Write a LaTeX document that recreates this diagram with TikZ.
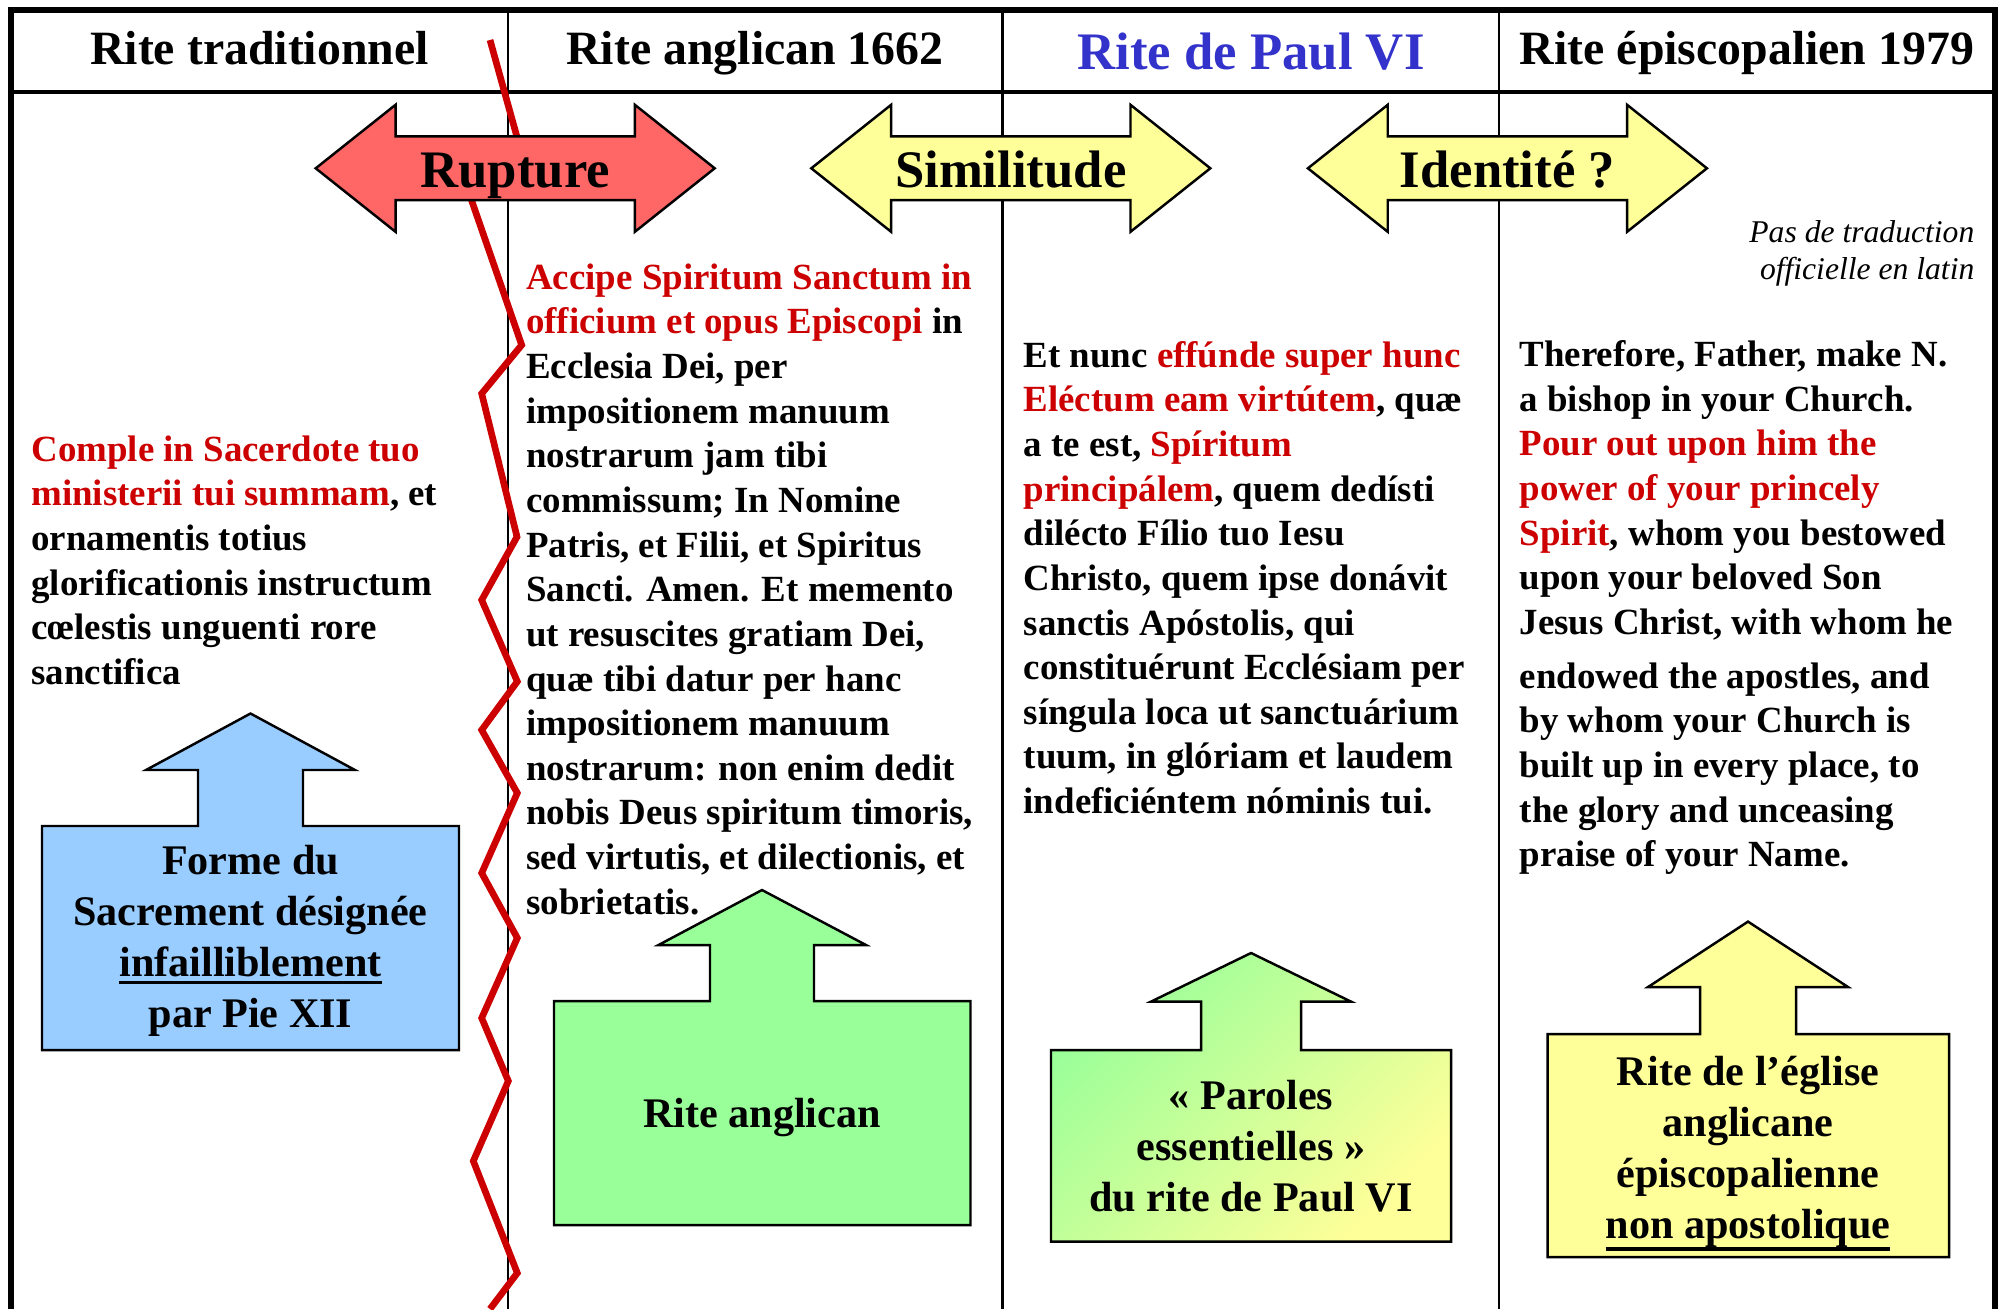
\documentclass[tikz,border=0pt]{standalone}
\usepackage{fontspec}
\setmainfont{Liberation Serif}
\usepackage{tikz}
\usetikzlibrary{shapes.arrows}

\definecolor{txtred}{RGB}{204,0,0}
\definecolor{hdblue}{RGB}{51,51,204}
\definecolor{rupred}{RGB}{255,102,102}
\definecolor{pyellow}{RGB}{255,255,153}
\definecolor{pgreen}{RGB}{153,255,153}
\definecolor{pblue}{RGB}{153,204,255}

\newcommand{\rd}[1]{\textcolor{txtred}{#1}}
\newcommand{\thul}[3]{\setbox0\hbox{#3}\rlap{\smash{\rule[#1]{\wd0}{#2}}}\box0}

\tikzset{
  hdtext/.style={anchor=base,inner sep=0,font=\fontsize{13.6}{16}\selectfont\bfseries},
  bigarrow/.style={double arrow,draw=black,line width=0.7pt,inner sep=0,
    minimum height=39.9mm,minimum width=12.7mm,
    double arrow head extend=3.13mm,double arrow tip angle=77,
    font=\fontsize{15}{18}\selectfont\bfseries,text height=14.2pt,text depth=3pt},
  bodytext/.style={anchor=north west,align=left,inner sep=0,
    font=\fontsize{10.5}{12.7}\selectfont\bfseries},
  boxlabel/.style={align=center,inner sep=0,font=\fontsize{12}{14.5}\selectfont\bfseries},
  calloutbox/.style={draw=black,line width=0.7pt},
}

\begin{document}
\begin{tikzpicture}[x=0.1mm,y=-0.1mm]
\useasboundingbox (0,0) rectangle (2005,1309);

% table
\draw[line width=1.5pt] (11,1309) -- (11,10) -- (1995,10) -- (1995,1309);
\draw[line width=0.9pt] (11,92) -- (1995,92);
\foreach \x in {507.6,1002.5,1498.6}
  \draw[line width=0.6pt] (\x,10) -- (\x,1309);

\node[hdtext] (h1) at (259.5,64) {Rite traditionnel};
\node[hdtext] (h2) at (755,64) {Rite anglican 1662};
\node[hdtext,font=\fontsize{15}{18}\selectfont\bfseries,text=hdblue] (h3) at (1251,69) {Rite de Paul VI};
\node[hdtext] (h4) at (1747,64) {Rite épiscopalien 1979};

% rupture line
\draw[txtred,line width=1.9pt] (490,40) -- (522,155) -- (468,190) -- (521.7,345)
  -- (481.7,393.6) -- (517,536.8) -- (481.7,600) -- (517.3,681.5) -- (481.7,730)
  -- (517.3,793) -- (481.7,873) -- (517.3,938) -- (481.7,1018) -- (508.3,1081)
  -- (473.3,1161) -- (517.3,1273) -- (490,1309);

\node[bigarrow,fill=rupred] (rupture) at (515.2,168.3) {Rupture};
\node[bigarrow,fill=pyellow] (simil) at (1010.8,168.3) {Similitude};
\node[bigarrow,fill=pyellow] (ident) at (1507.4,168.3) {Identité~?};

\node[anchor=north east,align=right,inner sep=0,font=\fontsize{9}{10.4}\selectfont\itshape] (note) at (1975,220) {Pas de traduction\\officielle en latin};

\node[bodytext] (latin1) at (30.7,435) {\rd{Comple in Sacerdote tuo}\\
\rd{ministerii tui summam}, et\\
ornamentis totius\\
glorificationis instructum\\
cœlestis unguenti rore\\
sanctifica};

\node[bodytext] (latin2) at (525.5,263) {\rd{Accipe Spiritum Sanctum in}\\
\rd{officium et opus Episcopi} in\\
Ecclesia Dei, per\\
impositionem manuum\\
nostrarum jam tibi\\
commissum; In Nomine\\
Patris, et Filii, et Spiritus\\
Sancti. Amen. Et memento\\
ut resuscites gratiam Dei,\\
quæ tibi datur per hanc\\
impositionem manuum\\
nostrarum: non enim dedit\\
nobis Deus spiritum timoris,\\
sed virtutis, et dilectionis, et\\
sobrietatis.};

\node[bodytext] (latin3) at (1023,340.5) {Et nunc \rd{effúnde super hunc}\\
\rd{Eléctum eam virtútem}, quæ\\
a te est, \rd{Spíritum}\\
\rd{principálem}, quem dedísti\\
dilécto Fílio tuo Iesu\\
Christo, quem ipse donávit\\
sanctis Apóstolis, qui\\
constituérunt Ecclésiam per\\
síngula loca ut sanctuárium\\
tuum, in glóriam et laudem\\
indeficiéntem nóminis tui.};

\node[bodytext] (engl) at (1519,340) {Therefore, Father, make N.\\
a bishop in your Church.\\
\rd{Pour out upon him the}\\
\rd{power of your princely}\\
\rd{Spirit}, whom you bestowed\\
upon your beloved Son\\
Jesus Christ, with whom he\\[0.9mm]
endowed the apostles, and\\
by whom your Church is\\
built up in every place, to\\
the glory and unceasing\\
praise of your Name.};

% boxes with arrows
\draw[calloutbox,fill=pblue] (42,1050) -- (42,826) -- (198,826) -- (198,770) -- (146,770)
  -- (250.5,713.5) -- (355,770) -- (303,770) -- (303,826) -- (459,826) -- (459,1050) -- cycle;
\node[boxlabel] (forme) at (250.5,940.5) {Forme du\\Sacrement désignée\\\thul{-2.2pt}{0.8pt}{infailliblement}\\par Pie XII};

\draw[calloutbox,fill=pgreen] (554,1225) -- (554,1001) -- (710,1001) -- (710,945) -- (658.5,945)
  -- (762,890) -- (866,945) -- (814,945) -- (814,1001) -- (970.5,1001) -- (970.5,1225) -- cycle;
\node[boxlabel] (anglican) at (762,1117) {Rite anglican};

\draw[calloutbox,top color=pgreen,bottom color=pyellow,shading angle=45] (1051,1241.6) -- (1051,1050)
  -- (1201,1050) -- (1201,1001.6) -- (1151,1001.6) -- (1251,953) -- (1351,1001.6) -- (1301,1001.6)
  -- (1301,1050) -- (1451,1050) -- (1451,1241.6) -- cycle;
\node[boxlabel] (paroles) at (1251,1145.8) {«~Paroles\\essentielles~»\\du rite de Paul VI};

\draw[calloutbox,fill=pyellow] (1547.6,1257) -- (1547.6,1034) -- (1700,1034) -- (1700,987) -- (1648,987)
  -- (1748,921.6) -- (1848,987) -- (1796,987) -- (1796,1034) -- (1949,1034) -- (1949,1257) -- cycle;
\node[boxlabel] (episc) at (1748,1152) {Rite de l’église\\anglicane\\épiscopalienne\\\thul{-3.6pt}{1.3pt}{non apostolique}};

\end{tikzpicture}
\end{document}
